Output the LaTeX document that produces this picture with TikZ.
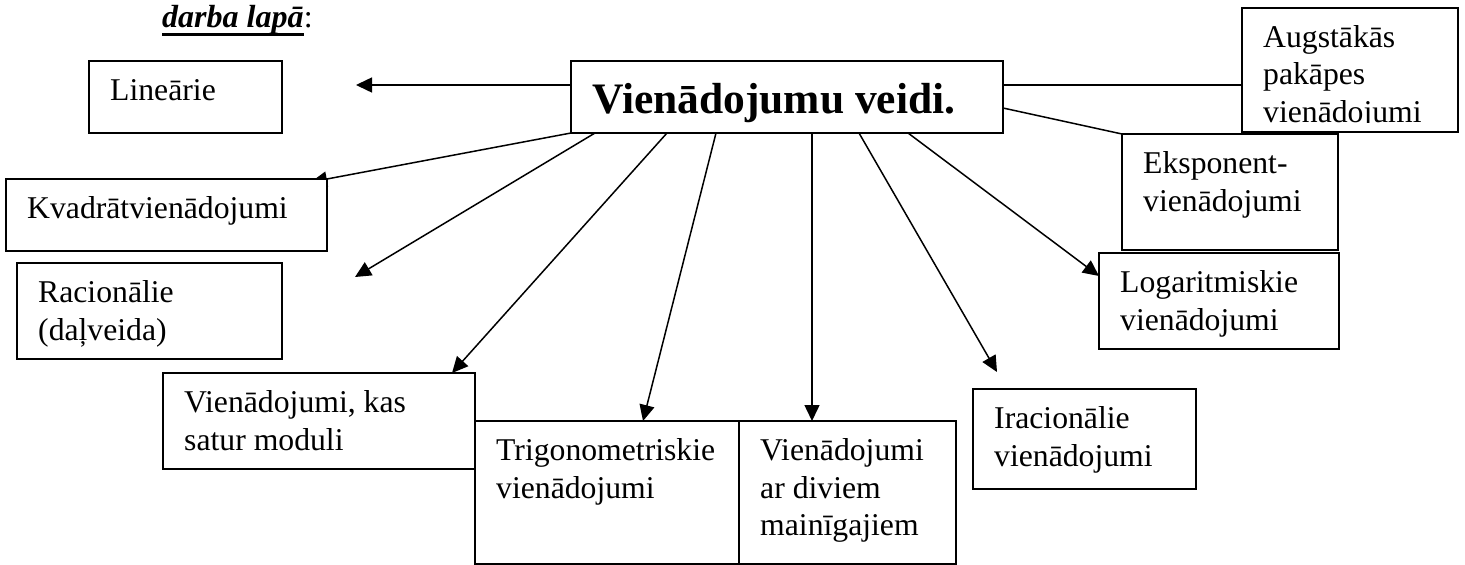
\documentclass[tikz,border=0pt]{standalone}
\usepackage{fontspec}
\setmainfont{Liberation Serif}
\usetikzlibrary{arrows.meta,calc}

\pgfdeclarelayer{back}
\pgfsetlayers{back,main}

\newcommand\bodysize{\fontsize{31.7pt}{37.5pt}\selectfont}
\newcommand\headsize{\fontsize{43.5pt}{50pt}\selectfont}
\newcommand\titlesize{\fontsize{32pt}{38pt}\selectfont}
\newcommand\linestrut{\rule{0pt}{27pt}}

\tikzset{
  box/.style={draw=black, line width=1.8pt, fill=white, rectangle,
    inner sep=0pt, outer sep=0pt, anchor=north west},
  lbl/.style={anchor=north west, inner sep=0pt, align=left, font=\bodysize},
  conn/.style={draw=black, line width=1.5pt},
  arr/.style={conn, -{Triangle[length=16pt,width=15pt]}},
}

% framed box from (x1,y1) to (x2,y2); text inset 21, first baseline 39.5 below the top
\newcommand\plainbox[5]{%
  \node[box, minimum width={#4-#2}, minimum height={#5-#3}] (#1) at (#2,#3) {};}
\newcommand\textbox[6]{%
  \plainbox{#1}{#2}{#3}{#4}{#5}
  \node[lbl] (#1-text) at ($(#1.north west)+(21,12.5)$) {\linestrut#6};}

\begin{document}
\begin{tikzpicture}[x=1pt,y=-1pt]
\useasboundingbox (0,0) rectangle (1465,565);

% heading
\node[anchor=base west, inner sep=0pt, font=\titlesize\bfseries\itshape] (ttl) at (162,27) {darba lapā};
\node[anchor=base west, inner sep=0pt, font=\titlesize] (colon) at (ttl.base east) {:};
\draw[line width=3pt] ($(ttl.base west)+(0,7)$) -- ($(ttl.base east)+(0,7)$);

% central box
\plainbox{main}{571}{61}{1003}{133}
\node[anchor=base west, inner sep=0pt, font=\headsize\bfseries] (main-text)
  at ($(main.north west)+(21,52)$) {Vienādojumu veidi.};

% surrounding boxes
\textbox{lin}{89}{61}{282}{133}{Lineārie}
\textbox{kv}{6}{179}{327}{251}{Kvadrātvienādojumi}
\textbox{rac}{17}{263}{282}{359}{Racionālie\\(daļveida)}
\textbox{vkas}{163}{373}{475}{469}{Vienādojumi, kas\\satur moduli}
\textbox{trig}{475}{421}{739}{564}{Trigonometriskie\\vienādojumi}
\textbox{vdiv}{739}{421}{956}{564}{Vienādojumi\\ar diviem\\mainīgajiem}
\textbox{irac}{973}{389}{1196}{489}{Iracionālie\\vienādojumi}
\textbox{log}{1099}{253}{1339}{349}{Logaritmiskie\\vienādojumi}
\textbox{eksp}{1122}{134}{1338}{250}{Eksponent-\\vienādojumi}

% top right box, its last line cut off by the inner margin
\plainbox{aug}{1242}{8}{1458}{132}
\begin{scope}
  \clip (1242,8) rectangle (1458,122.5);
  \node[lbl] (aug-text) at ($(aug.north west)+(21,12)$)
    {\linestrut Augstākās\\pakāpes\\vienādojumi};
\end{scope}

% connectors, kept behind the boxes
\begin{pgfonlayer}{back}
  \coordinate (linTip) at (356,85);
  \coordinate (kvTip) at (311,182);
  \coordinate (racTip) at (355,277);
  \coordinate (iracTip) at (997,372);
  \draw[arr] (main.west |- 0,85) -- (linTip);
  \draw[conn] (main.east |- 0,85) -- (aug.west |- 0,85);
  \draw[conn] (main.east |- 0,108) -- (eksp.north west);
  \draw[arr] (main.south west) -- (kvTip);
  \draw[arr] (main.south -| 595,0) -- (racTip);
  \draw[arr] (main.south -| 667,0) -- (vkas.north -| 452,0);
  \draw[arr] (main.south -| 716,0) -- (trig.north -| 643,0);
  \draw[arr] (main.south -| 812,0) -- (vdiv.north -| 812,0);
  \draw[arr] (main.south -| 859,0) -- (iracTip);
  \draw[arr] (main.south -| 908,0) -- (log.west |- 0,276);
\end{pgfonlayer}
\end{tikzpicture}
\end{document}
